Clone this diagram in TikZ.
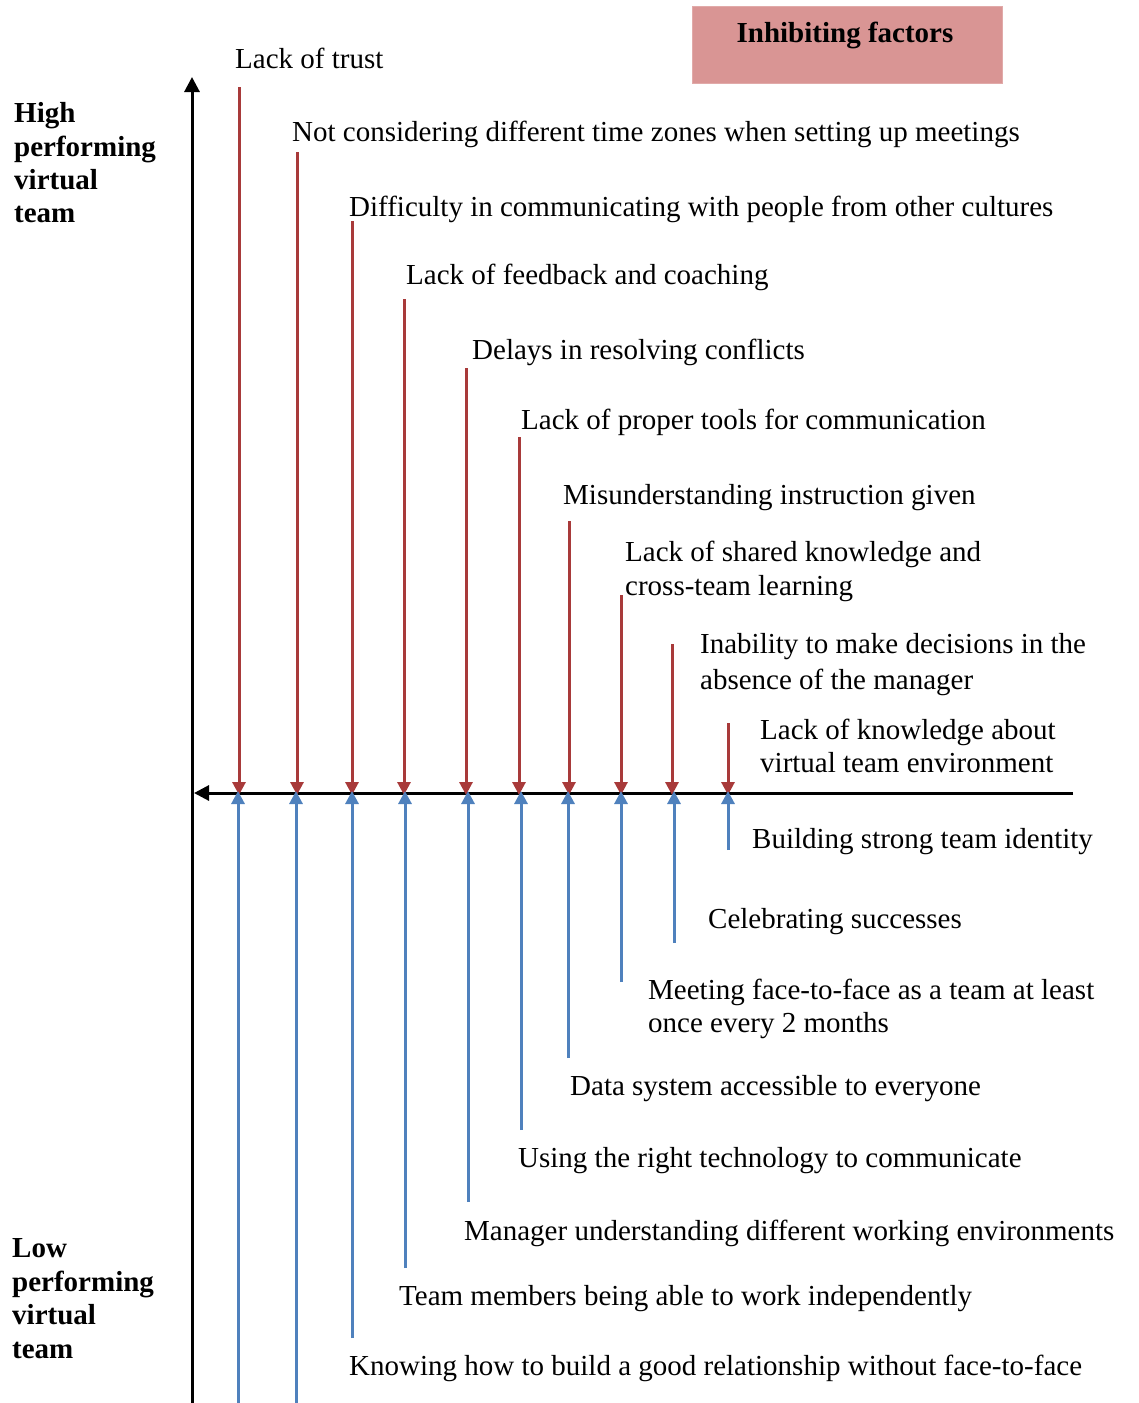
\documentclass[tikz,border=0pt]{standalone}
\usepackage{fontspec}
\setmainfont{Liberation Serif}
\usetikzlibrary{arrows.meta}
\definecolor{inhred}{HTML}{A83A3A}
\definecolor{enblue}{HTML}{4F81BD}
\definecolor{boxfill}{HTML}{D99594}
\begin{document}
\begin{tikzpicture}[x=1pt,y=-1pt,
  lbl/.style={anchor=base west,inner sep=0pt,font=\fontsize{29}{34}\selectfont},
  side/.style={anchor=base west,inner sep=0pt,font=\fontsize{29}{34}\selectfont\bfseries},
  axis/.style={line width=3pt,-{Triangle[width=15pt,length=15pt]}},
  inharr/.style={draw=inhred,line width=3pt,-{Triangle[width=13pt,length=13pt]}},
  enarr/.style={draw=enblue,line width=3pt,-{Triangle[width=13pt,length=13pt]}}]
\useasboundingbox (0,0) rectangle (1138,1403);

% title box
\node[fill=boxfill,draw=boxfill!80!white,minimum width=310pt,minimum height=77pt,inner sep=0pt] (title) at (847,44.5) {};
\node[anchor=base,inner sep=0pt,font=\fontsize{29}{34}\selectfont\bfseries] (titletext) at (845,42) {Inhibiting factors};

% axes
\coordinate (vbot) at (192,1403);
\coordinate (vtop) at (192,77);
\coordinate (hright) at (1073,793);
\coordinate (hleft) at (194,793);
\draw[axis] (vbot) -- (vtop);
\draw[axis] (hright) -- (hleft);

% side labels
\node[side] (h1) at (14,122) {High};
\node[side] (h2) at (14,156) {performing};
\node[side] (h3) at (14,189) {virtual};
\node[side] (h4) at (14,222) {team};
\node[side] (l1) at (12,1257) {Low};
\node[side] (l2) at (12,1291) {performing};
\node[side] (l3) at (12,1324) {virtual};
\node[side] (l4) at (12,1358) {team};

% inhibiting factors (red arrows from above)
\foreach \i/\x/\t in {1/239/87, 2/297/152, 3/352/221, 4/404/299, 5/466/368,
                      6/519/437, 7/569/521, 8/621/595, 9/672/644, 10/728/723} {
  \coordinate (rt\i) at (\x,\t);
  \coordinate (rb\i) at (\x,795);
  \draw[inharr] (rt\i) -- (rb\i);
}
\node[lbl] (r1) at (235,68) {Lack of trust};
\node[lbl] (r2) at (292,141) {Not considering different time zones when setting up meetings};
\node[lbl] (r3) at (349,216) {Difficulty in communicating with people from other cultures};
\node[lbl] (r4) at (406,284) {Lack of feedback and coaching};
\node[lbl] (r5) at (472,359) {Delays in resolving conflicts};
\node[lbl] (r6) at (521,429) {Lack of proper tools for communication};
\node[lbl] (r7) at (563,504) {Misunderstanding instruction given};
\node[lbl] (r8) at (625,561) {Lack of shared knowledge and};
\node[lbl] (r8b) at (625,595) {cross-team learning};
\node[lbl] (r9) at (700,653) {Inability to make decisions in the};
\node[lbl] (r9b) at (700,689) {absence of the manager};
\node[lbl] (r10) at (760,739) {Lack of knowledge about};
\node[lbl] (r10b) at (760,772) {virtual team environment};

% enabling factors (blue arrows from below)
\foreach \i/\x/\b in {1/238/1403, 2/296/1403, 3/352/1338, 4/405/1268, 5/468/1202,
                      6/521/1130, 7/568/1058, 8/621/982, 9/674/943, 10/728/850} {
  \coordinate (bb\i) at (\x,\b);
  \coordinate (bt\i) at (\x,791);
  \draw[enarr] (bb\i) -- (bt\i);
}
\node[lbl] (b10) at (752,848) {Building strong team identity};
\node[lbl] (b9) at (708,928) {Celebrating successes};
\node[lbl] (b8) at (648,999) {Meeting face-to-face as a team at least};
\node[lbl] (b8b) at (648,1032) {once every 2 months};
\node[lbl] (b7) at (570,1095) {Data system accessible to everyone};
\node[lbl] (b6) at (518,1167) {Using the right technology to communicate};
\node[lbl] (b5) at (464,1240) {Manager understanding different working environments};
\node[lbl] (b4) at (399,1305) {Team members being able to work independently};
\node[lbl] (b3) at (349,1375) {Knowing how to build a good relationship without face-to-face};
\end{tikzpicture}
\end{document}
